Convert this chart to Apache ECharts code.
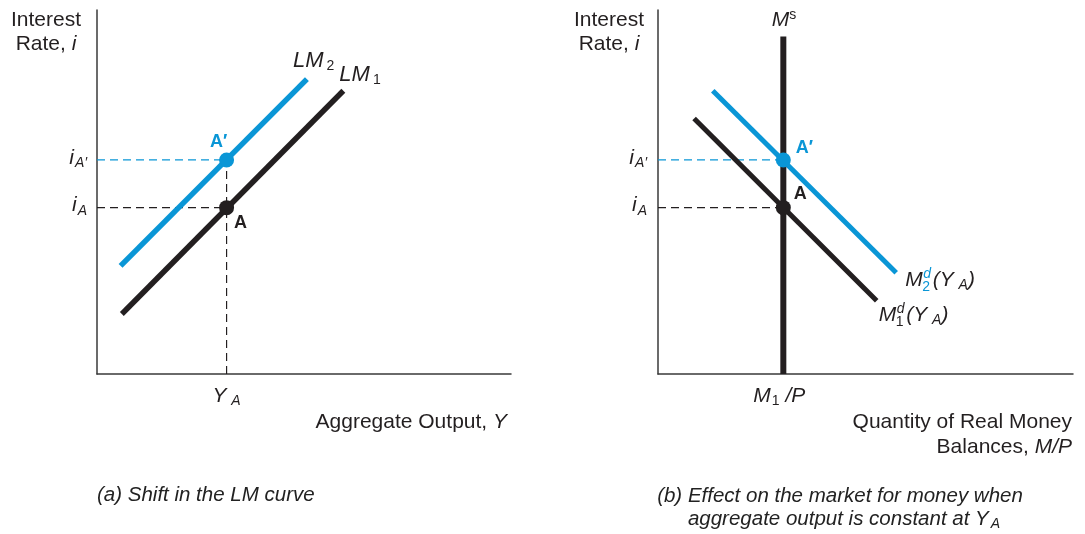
<!DOCTYPE html>
<html>
<head>
<meta charset="utf-8">
<script src="https://cdn.jsdelivr.net/npm/echarts@6/dist/echarts.min.js"></script>
<style>
html,body{margin:0;padding:0;background:#fff;}
#c{width:1085px;height:534px;}
</style>
</head>
<body>
<div id="c"></div>
<script>
// ---- data (arbitrary units, axes 0..10) ----
const BLUE = '#0a96d6';
const INK = '#231f20';
// Panel (a): LM curves [x, i]
const lm1 = [[0.60, 1.65], [5.95, 7.78]];
const lm2 = [[0.57, 2.97], [5.07, 8.10]];
const YA = 3.13;
const iA = 4.57;
const iAp = 5.88;
// Panel (b): money market
const M1P = 3.02;
const msTop = 9.27;
const md1 = [[0.87, 7.02], [5.27, 2.01]];
const md2 = [[1.32, 7.78], [5.74, 2.78]];
// labels
const yLabels = ['i_A′', 'i_A'];
const leftXLabel = 'Y_A';
const rightXLabel = 'M1/P';
const captionA = '(a) Shift in the LM curve';
const captionB = ['(b) Effect on the market for money when', 'aggregate output is constant at Y'];

const FONT = '"Liberation Sans", Arial, Helvetica, sans-serif';
const chart = echarts.init(document.getElementById('c'), null, {renderer: 'canvas'});

function axisX(gi) {
  return {gridIndex: gi, type: 'value', min: 0, max: 10,
    axisLine: {show: true, onZero: false, lineStyle: {color: '#3a3a3a', width: 1.5}},
    axisTick: {show: false}, axisLabel: {show: false}, splitLine: {show: false}};
}
function axisY(gi) {
  return {gridIndex: gi, type: 'value', min: 0, max: 10,
    axisLine: {show: true, onZero: false, lineStyle: {color: '#3a3a3a', width: 1.5}},
    axisTick: {show: false}, axisLabel: {show: false}, splitLine: {show: false}};
}
function seg(name, gi, data, color, width, dashed, z) {
  return {name, type: 'line', xAxisIndex: gi, yAxisIndex: gi, data, showSymbol: false,
    symbol: 'none', silent: true, animation: false, z: z || 2,
    lineStyle: {color, width, type: dashed ? [8, 5] : 'solid', cap: 'butt'}};
}
function pt(name, gi, data, color) {
  return {name, type: 'scatter', xAxisIndex: gi, yAxisIndex: gi, data: [data],
    symbol: 'circle', symbolSize: 15, itemStyle: {color, opacity: 1}, z: 5, animation: false, silent: true};
}

const option = {
  animation: false,
  grid: [
    {left: 97, top: 10, width: 414, height: 364},
    {left: 658, top: 10, width: 415, height: 364}
  ],
  xAxis: [axisX(0), axisX(1)],
  yAxis: [axisY(0), axisY(1)],
  series: [
    seg('dA', 0, [[0, iA], [YA, iA]], INK, 1.2, true),
    seg('dAp', 0, [[0, iAp], [YA, iAp]], BLUE, 1.2, true),
    seg('dV', 0, [[YA, 0], [YA, iAp]], INK, 1.2, true),
    seg('LM1', 0, lm1, INK, 5.5, false, 3),
    seg('LM2', 0, lm2, BLUE, 5.5, false, 3),
    pt('A', 0, [YA, iA], INK),
    pt('Ap', 0, [YA, iAp], BLUE),
    seg('dA2', 1, [[0, iA], [M1P, iA]], INK, 1.2, true),
    seg('dAp2', 1, [[0, iAp], [M1P, iAp]], BLUE, 1.2, true),
    seg('Md1', 1, md1, INK, 5, false, 3),
    seg('Md2', 1, md2, BLUE, 5, false, 3),
    seg('Ms', 1, [[M1P, 0], [M1P, msTop]], INK, 6, false, 4),
    pt('A2', 1, [M1P, iA], INK),
    pt('Ap2', 1, [M1P, iAp], BLUE)
  ]
};
chart.setOption(option);

function px(gi, p) { return chart.convertToPixel({gridIndex: gi}, p); }

const FS = 21;
const rich = {
  n: {fontFamily: FONT, fontSize: FS, color: INK},
  it: {fontFamily: FONT, fontSize: FS, fontStyle: 'italic', color: INK},
  itl: {fontFamily: FONT, fontSize: 22, fontStyle: 'italic', color: INK},
  bitl: {fontFamily: FONT, fontSize: 22, fontStyle: 'italic', color: BLUE},
  sub: {fontFamily: FONT, fontSize: 14, fontStyle: 'italic', color: INK, padding: [10, 0, 0, 1]},
  subn: {fontFamily: FONT, fontSize: 14, color: INK, padding: [10, 0, 0, 1]},
  subl: {fontFamily: FONT, fontSize: 14, color: INK, padding: [10, 0, 0, 3]},
  bit: {fontFamily: FONT, fontSize: FS, fontStyle: 'italic', color: BLUE},
  bsub: {fontFamily: FONT, fontSize: 14, fontStyle: 'italic', color: BLUE, padding: [10, 0, 0, 1]},
  bsubn: {fontFamily: FONT, fontSize: 14, color: BLUE, padding: [10, 0, 0, 1]},
  bsubl: {fontFamily: FONT, fontSize: 14, color: BLUE, padding: [10, 0, 0, 3]},
  sp: {fontFamily: FONT, fontSize: FS, width: 10},
  bsp: {fontFamily: FONT, fontSize: FS, width: 10},
  sup: {fontFamily: FONT, fontSize: 14, color: INK, padding: [0, 0, 9, 0]}
};
function T(x, y, text, align, extra) {
  return {type: 'text', x, y, silent: true, z: 10,
    style: Object.assign({text, rich, x: 0, y: 0, align: align || 'left', verticalAlign: 'middle',
      fontFamily: FONT, fontSize: FS, fill: INK}, extra || {})};
}

const g = [];
// axis titles
['Interest', 'Rate, {it|i}'].forEach((s, k) => {
  g.push(T(46, 20 + 24.5 * k, s, 'center'));
  g.push(T(609, 20 + 24.5 * k, s, 'center'));
});
g.push(T(507, 422, 'Aggregate Output, {it|Y}', 'right'));
g.push(T(1072, 422, 'Quantity of Real Money', 'right'));
g.push(T(1072, 447, 'Balances, {it|M/P}', 'right'));

// y tick labels
[0, 1].forEach(gi => {
  const xAxisPx = gi === 0 ? 87 : 647;
  const pA = px(gi, [0, iA]);
  const pAp = px(gi, [0, iAp]);
  g.push(T(xAxisPx, pAp[1] - 2, '{bit|i}{bsub|A′}', 'right'));
  g.push(T(xAxisPx, pA[1] - 2, '{it|i}{sub|A}', 'right'));
});
// x tick labels
const pYA = px(0, [YA, 0]);
g.push(T(pYA[0], pYA[1] + 22, '{it|Y}{sub| A}', 'center'));
const pM = px(1, [M1P, 0]);
g.push(T(pM[0] - 4, pM[1] + 22, '{it|M}{subn|1}{it| /P}', 'center'));

// point labels
const bold = {fontWeight: 'bold', fontSize: 18};
let p = px(0, [YA, iAp]);
g.push(T(p[0] - 8, p[1] - 18, 'A′', 'center', Object.assign({fill: BLUE}, bold)));
p = px(0, [YA, iA]);
g.push(T(p[0] + 14, p[1] + 15, 'A', 'center', bold));
p = px(1, [M1P, iAp]);
g.push(T(p[0] + 21, p[1] - 12, 'A′', 'center', Object.assign({fill: BLUE}, bold)));
p = px(1, [M1P, iA]);
g.push(T(p[0] + 17, p[1] - 14, 'A', 'center', bold));

// curve labels
p = px(0, lm2[1]);
g.push(T(p[0] - 14, p[1] - 18, '{bitl|LM}{bsubl|2}', 'left'));
p = px(0, lm1[1]);
g.push(T(p[0] - 4, p[1] - 16, '{itl|LM}{subl|1}', 'left'));
p = px(1, md2[1]);
g.push(T(p[0] + 9, p[1] + 7, '{bit|M}{bsp| }{bit|(Y}{bsub| A}{bit|)}', 'left'));
g.push(T(p[0] + 27, p[1] + 1, 'd', 'left', {fontSize: 14, fontStyle: 'italic', fill: BLUE}));
g.push(T(p[0] + 26, p[1] + 14, '2', 'left', {fontSize: 14, fill: BLUE}));
p = px(1, md1[1]);
g.push(T(p[0] + 2, p[1] + 14, '{it|M}{sp| }{it|(Y}{sub| A}{it|)}', 'left'));
g.push(T(p[0] + 20, p[1] + 8, 'd', 'left', {fontSize: 14, fontStyle: 'italic'}));
g.push(T(p[0] + 19, p[1] + 21, '1', 'left', {fontSize: 14}));
// Ms
g.push(T(784, 20, '{it|M}{sup|s}', 'center'));

// captions
const capStyle = {fontStyle: 'italic', fontSize: 20.5, fill: '#222'};
g.push(T(97, 495, captionA, 'left', capStyle));
g.push(T(840, 496, captionB[0], 'center', capStyle));
g.push(T(844, 519, captionB[1] + '{csub|A}', 'center', Object.assign({}, capStyle, {
  rich: Object.assign({}, rich, {csub: {fontFamily: FONT, fontSize: 14, fontStyle: 'italic', color: '#222', padding: [10, 0, 0, 2]}})
})));

chart.setOption({graphic: {elements: g}});
</script>
</body>
</html>
